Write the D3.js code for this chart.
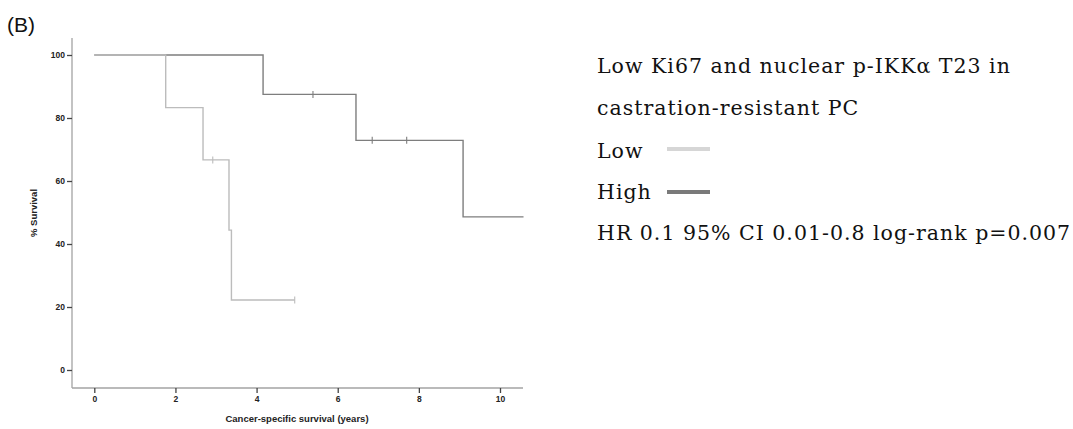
<!DOCTYPE html>
<html><head><meta charset="utf-8">
<script src="https://cdn.jsdelivr.net/npm/d3@7"></script>
<style>body{margin:0;background:#fff}svg{display:block}</style>
</head><body>
<svg id="c" width="1073" height="429"></svg>
<script>
// Kaplan-Meier step data (time in years, % survival)
const lowTimes    = [0, 1.76, 2.68, 3.32, 3.38, 4.94];
const lowSurv     = [100, 83.3, 66.7, 44.4, 22.2, 22.2];
const lowCensor   = [2.92, 4.94];
const lowCensorS  = [66.7, 22.2];
const highTimes   = [0, 4.16, 6.45, 9.09, 10.58];
const highSurv    = [100, 87.5, 72.9, 48.6, 48.6];
const highCensor  = [5.39, 6.85, 7.70];
const highCensorS = [87.5, 72.9, 72.9];
const xTicks = [0, 2, 4, 6, 8, 10];
const yTicks = [0, 20, 40, 60, 80, 100];
const legendTitle = ["Low Ki67 and nuclear p-IKK\u03b1 T23 in", "castration-resistant PC"];
const seriesNames = ["Low", "High"];
const statText = "HR 0.1 95% CI 0.01-0.8 log-rank p=0.007";

const svg = d3.select("#c");
const x = d3.scaleLinear().domain([0, 10]).range([94.3, 500]);
const y = d3.scaleLinear().domain([0, 100]).range([370, 55]);
const axisColor = "#a3a3a3";

svg.append("text").attr("x", 7).attr("y", 32).attr("font-family", "Liberation Sans, Arial")
  .attr("font-size", 21).attr("fill", "#111").text("(B)");

// axes
const xAxis = svg.append("g").attr("transform", "translate(0,388)")
  .call(d3.axisBottom(x).tickValues(xTicks).tickSize(5).tickPadding(3).tickFormat(d3.format("d")));
xAxis.select(".domain").attr("d", "M72,0H523");
const yAxis = svg.append("g").attr("transform", "translate(72,0)")
  .call(d3.axisLeft(y).tickValues(yTicks).tickSize(5).tickPadding(2).tickFormat(d3.format("d")));
yAxis.select(".domain").attr("d", "M0,38V388");
[xAxis, yAxis].forEach(g => {
  g.selectAll("path,line").attr("stroke", axisColor).attr("stroke-width", 1.3);
  g.selectAll("text").attr("font-family", "Liberation Sans, Arial").attr("font-weight", "bold")
    .attr("font-size", 8.5).attr("fill", "#222");
});
xAxis.selectAll(".tick line").attr("stroke", "#444");
yAxis.selectAll(".tick line").attr("stroke", "#444");

svg.append("text").attr("x", 297).attr("y", 422).attr("text-anchor", "middle")
  .attr("font-family", "Liberation Sans, Arial").attr("font-weight", "bold").attr("font-size", 9.5)
  .attr("fill", "#222").text("Cancer-specific survival (years)");
svg.append("text").attr("transform", "translate(37,213) rotate(-90)").attr("text-anchor", "middle")
  .attr("font-family", "Liberation Sans, Arial").attr("font-weight", "bold").attr("font-size", 9.5)
  .attr("fill", "#222").text("% Survival");

const line = d3.line().curve(d3.curveStepAfter).x(d => x(d[0])).y(d => y(d[1]));
function drawSeries(times, surv, ct, cs, color) {
  svg.append("path").datum(d3.zip(times, surv)).attr("d", line)
    .attr("fill", "none").attr("stroke", color).attr("stroke-width", 1.4);
  svg.selectAll(null).data(d3.zip(ct, cs)).enter().append("line")
    .attr("x1", d => x(d[0])).attr("x2", d => x(d[0]))
    .attr("y1", d => y(d[1]) - 3.5).attr("y2", d => y(d[1]) + 3.5)
    .attr("stroke", color).attr("stroke-width", 1.1);
}
const colors = ["#bcbcbc", "#7e7e7e"];
drawSeries(highTimes, highSurv, highCensor, highCensorS, colors[1]);
drawSeries(lowTimes, lowSurv, lowCensor, lowCensorS, colors[0]);

// legend
const lf = "DejaVu Serif, serif";
const lg = svg.append("g").attr("font-family", lf).attr("font-size", 20.5)
  .attr("letter-spacing", 1.0).attr("fill", "#111");
legendTitle.forEach((t, i) => lg.append("text").attr("x", 597).attr("y", 73 + i * 42).text(t));
seriesNames.forEach((n, i) => {
  lg.append("text").attr("x", 597).attr("y", 157.5 + i * 41).text(n);
  svg.append("line").attr("x1", 667).attr("x2", 710).attr("y1", 149 + i * 43).attr("y2", 149 + i * 43)
    .attr("stroke", i === 0 ? "#d6d6d6" : "#7a7a7a").attr("stroke-width", 4);
});
lg.append("text").attr("x", 597).attr("y", 240).text(statText);
</script>
</body></html>
